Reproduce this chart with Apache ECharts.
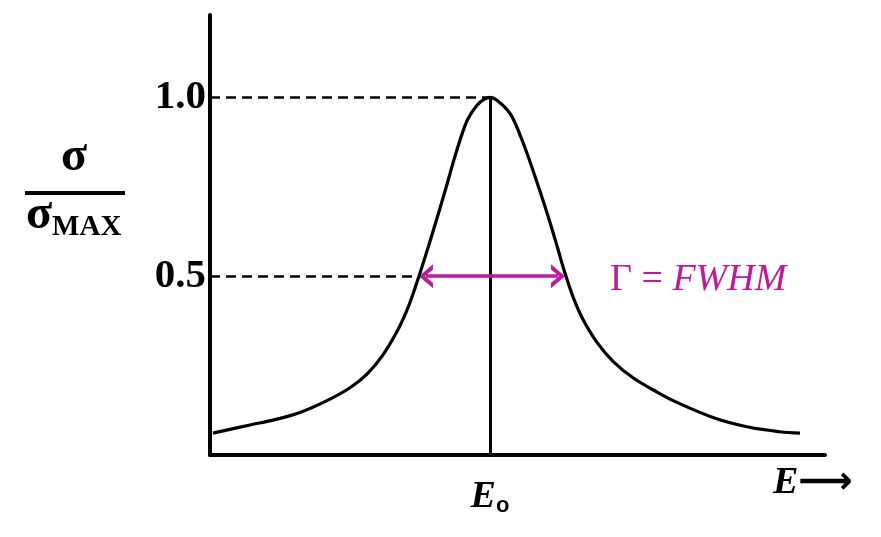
<!DOCTYPE html>
<html>
<head>
<meta charset="utf-8">
<script src="https://cdn.jsdelivr.net/npm/echarts@6/dist/echarts.min.js"></script>
<style>html,body{margin:0;padding:0;background:#fff}#c{width:881px;height:537px}</style>
</head>
<body>
<div id="c"></div>
<script>
// energy axis (arbitrary units), E0 at 280
const energy = [3, 40, 65, 90, 117, 140, 157, 173, 187, 197, 203, 209, 217, 223, 230, 237, 245, 252, 258, 267, 274, 280,
                287, 300, 310, 320, 330, 340, 348, 355, 364, 373, 387, 403, 423, 447, 467, 503, 537, 570, 590];
const sigmaRatio = [0.061, 0.084, 0.099, 0.119, 0.152, 0.188, 0.226, 0.280, 0.345, 0.405, 0.450, 0.500, 0.570, 0.625, 0.690, 0.757, 0.835, 0.897, 0.940, 0.978, 0.994, 1.0,
                    0.992, 0.955, 0.895, 0.820, 0.737, 0.650, 0.575, 0.508, 0.435, 0.379, 0.315, 0.262, 0.216, 0.176, 0.147, 0.105, 0.079, 0.065, 0.061];
const E0 = 280;
const halfLeft = 209;
const halfRight = 355;
const yTicks = [0.5, 1.0];
const yTickLabels = ['0.5', '1.0'];

const magenta = '#c2189a';
const serif = '"Liberation Serif", "Times New Roman", serif';
const chevron = 'path://M0,10 L5,0 L10,10 L7.8,10 L5,4.2 L2.2,10 Z';

const chart = echarts.init(document.getElementById('c'));
chart.setOption({
  animation: false,
  grid: { left: 210, right: 56, top: 15, bottom: 82 },
  xAxis: {
    type: 'value', min: 0, max: 615,
    axisLine: { lineStyle: { color: '#000', width: 4 } },
    axisTick: { show: false },
    splitLine: { show: false },
    axisLabel: {
      customValues: [E0],
      margin: 22,
      formatter: () => '{e|E}{o|o}',
      rich: {
        e: { fontFamily: serif, fontWeight: 'bold', fontStyle: 'italic', fontSize: 38, color: '#000' },
        o: { fontFamily: '"Liberation Sans", Arial, sans-serif', fontWeight: 'bold', fontSize: 22, color: '#000', padding: [18, 0, 0, 0] }
      }
    }
  },
  yAxis: {
    type: 'value', min: 0, max: 1.23,
    axisLine: { lineStyle: { color: '#000', width: 4 } },
    axisTick: { show: false },
    splitLine: { show: false },
    axisLabel: {
      customValues: yTicks,
      margin: 4,
      formatter: v => yTickLabels[yTicks.indexOf(v)] || '',
      fontFamily: serif, fontWeight: 'bold', fontSize: 41, color: '#000'
    }
  },
  series: [
    {
      type: 'line', data: energy.map((x, i) => [x, sigmaRatio[i]]),
      smooth: 0.35, showSymbol: false,
      lineStyle: { color: '#000', width: 3.2 },
      z: 5
    },
    {
      type: 'line', data: [],
      markLine: {
        silent: true, symbol: 'none', label: { show: false },
        data: [
          [{ coord: [0, 1.0], lineStyle: { type: [10, 6], width: 2.5, color: '#000' } }, { coord: [E0, 1.0] }],
          [{ coord: [0, 0.5], lineStyle: { type: [10, 6], width: 2.5, color: '#000' } }, { coord: [halfLeft, 0.5] }],
          [{ coord: [E0, 0], lineStyle: { type: 'solid', width: 3, color: '#000' } }, { coord: [E0, 1.0] }]
        ]
      }
    },
    {
      type: 'line', data: [],
      z: 6,
      markLine: {
        silent: true,
        symbol: [chevron, chevron],
        symbolSize: [24, 14],
        label: { show: false },
        lineStyle: { type: 'solid', width: 3.5, color: magenta },
        itemStyle: { color: magenta },
        data: [[{ coord: [halfLeft + 7, 0.5] }, { coord: [halfRight - 7, 0.5] }]]
      }
    }
  ],
  graphic: [
    { type: 'text', left: 61, top: 134, style: { text: 'σ', font: 'bold 48px ' + serif, fill: '#000' } },
    { type: 'rect', shape: { x: 25, y: 191, width: 100, height: 4 }, style: { fill: '#000' } },
    { type: 'text', left: 26, top: 192, style: {
      text: '{s|σ}{m|MAX}',
      rich: {
        s: { font: 'bold 48px ' + serif, fill: '#000' },
        m: { font: 'bold 29px ' + serif, fill: '#000', padding: [24, 0, 0, 0] }
      }
    } },
    { type: 'text', left: 610, top: 261, style: {
      text: '{g|Γ = }{f|FWHM}',
      rich: {
        g: { font: '38px ' + serif, fill: magenta },
        f: { font: 'italic 38px ' + serif, fill: magenta }
      }
    } },
    { type: 'text', left: 773, top: 464, style: {
      text: '{e|E}{a|⟶}',
      rich: {
        e: { font: 'bold italic 38px ' + serif, fill: '#000' },
        a: { font: 'bold 38px "DejaVu Sans", sans-serif', fill: '#000' }
      }
    } }
  ]
});
</script>
</body>
</html>
